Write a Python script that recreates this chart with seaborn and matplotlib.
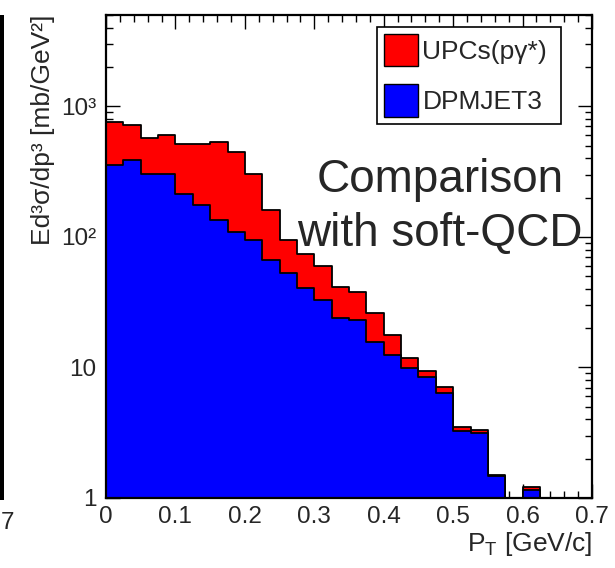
import numpy as np
import pandas as pd
import matplotlib
matplotlib.use("Agg")
import matplotlib.pyplot as plt
import seaborn as sns
from matplotlib.patches import Patch, Rectangle
from matplotlib.ticker import MultipleLocator, LogLocator, NullFormatter, FixedLocator, FixedFormatter

# ---------------- data ----------------
pt_edges = [0.000, 0.025, 0.050, 0.075, 0.100, 0.125, 0.150, 0.175, 0.200, 0.225,
            0.250, 0.275, 0.300, 0.325, 0.350, 0.375, 0.400, 0.425, 0.450, 0.475,
            0.500, 0.525, 0.550, 0.575, 0.600, 0.625, 0.650, 0.675, 0.700]
# top of the stack (UPCs(p gamma*) on top of DPMJET3)
upc_stack = [757, 714, 575, 600, 517, 517, 532, 446, 301, 160,
             94, 73.6, 59.6, 41.4, 37.9, 25.9, 17.7, 11.9, 9.4, 7.1,
             3.52, 3.31, 1.50, 0, 1.22, 0, 0, 0]
dpmjet3 = [353, 386, 305, 305, 214, 175, 134, 109, 94, 66,
           52.6, 40.4, 32.7, 23.8, 23.0, 15.7, 12.4, 9.9, 8.4, 6.36,
           3.26, 3.14, 1.47, 0, 1.15, 0, 0, 0]
series_labels = ["UPCs(p\u03b3*)", "DPMJET3"]
x_tick_values = [0, 0.1, 0.2, 0.3, 0.4, 0.5, 0.6, 0.7]
x_tick_labels = ["0", "0.1", "0.2", "0.3", "0.4", "0.5", "0.6", "0.7"]
y_tick_values = [1, 10, 100, 1000]
y_tick_labels = ["1", "10", "10\u00b2", "10\u00b3"]

# ---------------- styling ----------------
sns.set_theme(style="white")
plt.rcParams["font.family"] = ["Liberation Sans", "DejaVu Sans"]
RED = "#ff0000"
BLUE = "#0000ff"

centers = [0.5 * (a + b) for a, b in zip(pt_edges[:-1], pt_edges[1:])]
df = pd.DataFrame({"pt": centers, "upc": upc_stack, "dpm": dpmjet3})

W, H = 615, 568
fig = plt.figure(figsize=(W / 100, H / 100), dpi=100)
fig.patch.set_facecolor("white")
ax = fig.add_axes([106 / W, 70 / H, 486 / W, 483 / H])
ax.set_yscale("log")

common = dict(bins=list(pt_edges), element="step", fill=True, alpha=1.0,
              edgecolor="black", linewidth=1.3, ax=ax)
sns.histplot(data=df, x="pt", weights="upc", color=RED, **common)
sns.histplot(data=df, x="pt", weights="dpm", color=BLUE, **common)

ax.set_xlim(0, 0.7)
ax.set_ylim(1, 5000)

# ticks ROOT-style
ax.xaxis.set_major_locator(FixedLocator(x_tick_values))
ax.xaxis.set_major_formatter(FixedFormatter(x_tick_labels))
ax.xaxis.set_minor_locator(MultipleLocator(0.02))
ax.yaxis.set_major_locator(FixedLocator(y_tick_values))
ax.yaxis.set_major_formatter(FixedFormatter(y_tick_labels))
ax.yaxis.set_minor_locator(LogLocator(base=10, subs=np.arange(2, 10)))
ax.yaxis.set_minor_formatter(NullFormatter())
ax.tick_params(which="both", direction="in", top=True, right=True,
               bottom=True, left=True, color="black", width=1.0)
ax.tick_params(which="major", length=10, labelsize=17.5)
ax.tick_params(axis="x", which="major", pad=6)
ax.tick_params(axis="y", which="major", pad=7)
ax.tick_params(which="minor", length=5)
for sp in ax.spines.values():
    sp.set_color("black")
    sp.set_linewidth(1.6)
    sp.set_zorder(5)

ax.set_xlabel("P$_\\mathregular{T}$ [GeV/c]", fontsize=19, loc="right", labelpad=1)
ax.set_ylabel("Ed\u00b3\u03c3/dp\u00b3 [mb/GeV\u00b2]", fontsize=19, loc="top")
ax.yaxis.set_label_coords(-0.105, 1.0)

leg = ax.legend(handles=[Patch(facecolor=RED, edgecolor="black", linewidth=1.0),
                         Patch(facecolor=BLUE, edgecolor="black", linewidth=1.0)],
                labels=series_labels, loc="upper left", mode="expand",
                bbox_to_anchor=((377 - 106) / 486, 0.775, (561 - 377) / 486, 0.2),
                fontsize=19, frameon=True,
                fancybox=False, framealpha=1, edgecolor="black",
                handlelength=1.3, handleheight=1.5, handletextpad=0.15,
                labelspacing=0.68, borderpad=0.27, borderaxespad=0)
leg.get_frame().set_linewidth(1.2)

fig.text(440 / W, 1 - 192 / H, "Comparison", fontsize=33, ha="center", va="baseline")
fig.text(440 / W, 1 - 246 / H, "with soft-QCD", fontsize=33, ha="center", va="baseline")

# fragment of the neighbouring panel at the very left edge
fig.add_artist(Rectangle((0, 1 - 500 / H), 3.5 / W, 485 / H, transform=fig.transFigure,
                         facecolor="black", edgecolor="none"))
fig.text(1 / W, 1 - 523 / H, "7", fontsize=17.5, ha="left", va="center")

fig.savefig("out.png", dpi=100, facecolor="white")
